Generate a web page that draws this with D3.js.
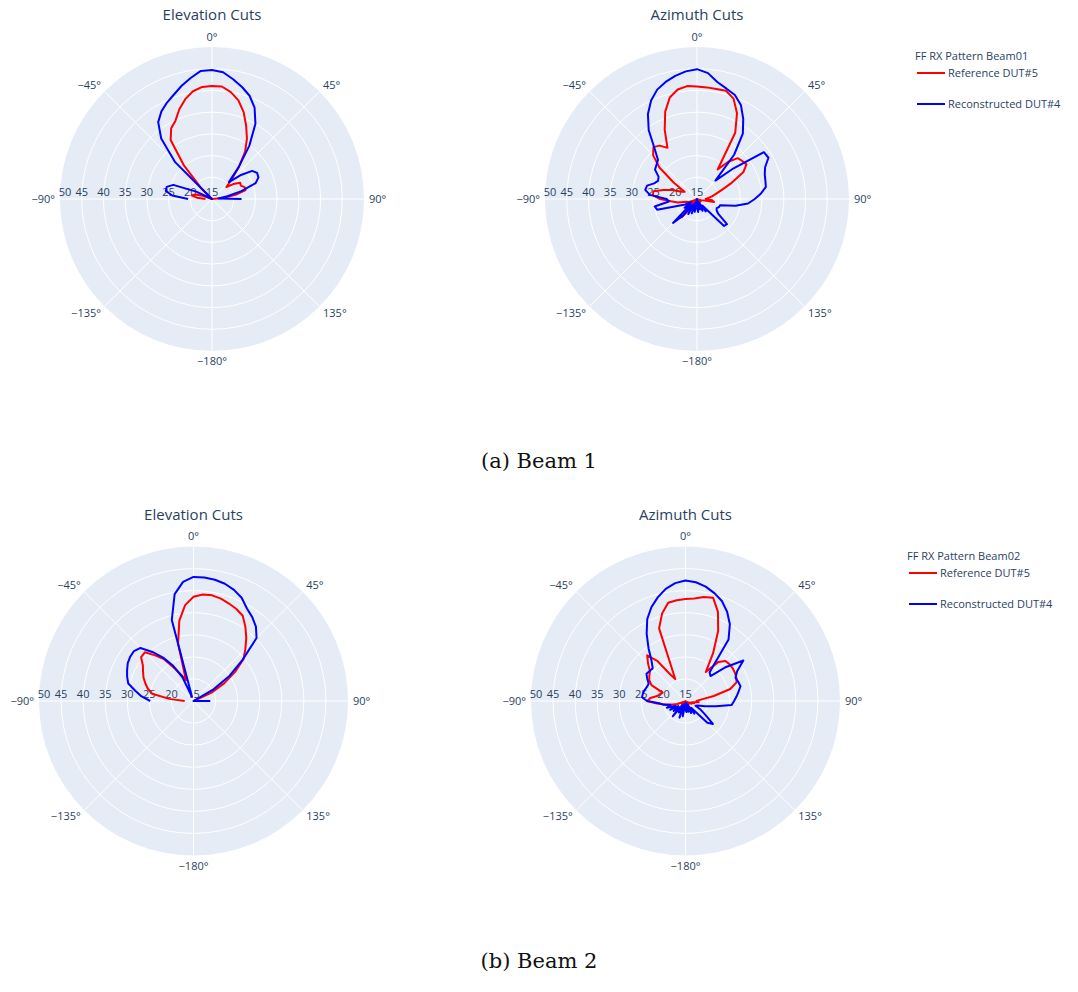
<!DOCTYPE html>
<html>
<head>
<meta charset="utf-8">
<script src="https://cdn.jsdelivr.net/npm/d3@7"></script>
<style>
    body { margin: 0; background: #fff; }
    svg text { font-family: "Open Sans", "Noto Sans", sans-serif; fill: #2a3f5f; }
    svg text.caption { font-family: "DejaVu Serif", serif; fill: #111; }
</style>
</head>
<body>
<div id="chart"></div>
<script>

// ---- data (dB) ----
const RADIAL_TICKS = [15, 20, 25, 30, 35, 40, 45, 50];
const ANGULAR_TICKS = [0, 45, 90, 135, 180, -135, -90, -45];
const ANGULAR_LABELS = ["0°", "45°", "90°", "135°", "−180°", "−135°", "−90°", "−45°"];

const ELEV_ANGLES = [-90, -85, -80, -75, -70, -65, -60, -55, -50, -45, -40, -35, -30, -25, -20, -15, -10, -5,
    0, 5, 10, 15, 20, 25, 30, 35, 40, 45, 50, 55, 60, 65, 70, 75, 80, 85, 90];

const AZ_ANGLES = [-180, -175, -170, -165, -160, -155, -150, -145, -140, -135, -130, -125, -120, -115, -110, -105,
    -100, -95, -90, -85, -80, -75, -70, -65, -60, -55, -50, -45, -40, -35, -30, -25, -20, -15, -10, -5,
    0, 5, 10, 15, 20, 25, 30, 35, 40, 45, 50, 55, 60, 65, 70, 75, 80, 85, 90, 95, 100, 105, 110, 115,
    120, 125, 130, 135, 140, 145, 150, 155, 160, 165, 170, 175, 180];

// Beam 1
const beam1ElevRef = [16.5, 18.5, 19.8, 19, 17, 15, 15, 15, 15, 18.4, 25, 31.6, 33.8, 34.9, 37, 38.8, 40.2, 40.9,
    41, 41, 40, 38.5, 36.3, 33.6, 31.1, 28.3, 24.6, 21.5, 19.3, 21, 22.5, 22.3, 23, 23, 20.5, 17.5, 15];
const beam1ElevRec = [20.5, 24.2, 25.8, 25.8, 24.5, 19, 15, 15, 15, 27, 33.2, 36.6, 38.3, 39.5, 40.6, 42, 43.3, 44.6,
    44.7, 44.3, 43, 41.7, 40.3, 38.2, 35, 30, 24.5, 20.5, 23.5, 26.3, 27, 26.8, 25.7, 22, 18.6, 16.5, 21.8];

const beam1AzRef = [16, 15, 16.5, 15, 17, 15.5, 16, 17.5, 20.5, 17, 15.5, 16, 15, 16, 17, 17.5,
    19.5, 21, 23.5, 25.2, 25.2, 23, 21, 19, 18.3, 21.5, 26.3, 29.3, 30.6, 30, 28.6, 32.6, 36.4, 39.2, 40.6, 41.1,
    40.9, 40.8, 40.7, 40.8, 39.6, 36.8, 32.6, 23.3, 26.2, 28.3, 28.6, 28.9, 27.3, 23.8, 21, 19.5, 18.5, 17.5, 17, 18.5, 19, 16, 15.5, 16,
    15, 15.5, 16, 15, 15.5, 15, 16, 15, 15.5, 15, 16, 15, 16];
const beam1AzRec = [17, 15, 18, 15.5, 18.5, 16, 19, 16.5, 20, 22.8, 17, 18.5, 16.5, 18, 19.5, 24.5,
    24.9, 21.5, 22, 25.9, 27.1, 26.9, 25.5, 24.9, 25.2, 26.8, 27.2, 27.7, 30.2, 34.4, 37.6, 40, 41.8, 42.9, 43.8, 44.5,
    44.9, 44.1, 42.3, 41.3, 40.5, 38.9, 36.3, 33.4, 28.3, 21, 26, 33.8, 34, 32.3, 31.6, 31.3, 31.1, 29.8, 28.3, 26.8, 24, 20.5, 20.4, 20,
    20.2, 21, 24, 23.8, 17, 18.5, 16, 18, 15.5, 17.5, 15.5, 18, 17];

// Beam 2
const beam2ElevRef = [17, 20.5, 24.5, 25.7, 26.6, 27.5, 28.2, 29, 30.5, 30.6, 28.5, 26.5, 23.5, 21.5, 20, 28.5, 33.5, 36.8,
    38.6, 39.2, 39.3, 39, 38.5, 38, 37.3, 35.5, 33.6, 31.6, 29.8, 26.5, 23, 19.5, 15, 15, 15, 15, 15];
const beam2ElevRec = [24.8, 26.8, 28.4, 30.3, 31, 31.6, 32.2, 32.5, 32.6, 32, 29.5, 27, 24.2, 21, 16, 34, 39.6, 42.1,
    43.1, 43.1, 42.9, 42.5, 41.8, 40.8, 39.2, 38.2, 37, 35.2, 29.5, 25, 20, 15, 15, 15, 15, 15, 18.8];

const beam2AzRef = [15.5, 15, 16, 15, 16.5, 15, 16, 15, 16.5, 15.5, 16, 15, 16, 15.5, 17, 18,
    19.5, 21.5, 23.7, 23, 21.5, 21, 20.5, 23.5, 24.5, 25, 25.5, 27, 28.5, 26, 22, 20.5, 32.5, 35.5, 37.6, 37.9,
    38.1, 38.3, 38.9, 39.2, 36.5, 32.5, 27.5, 23, 26.5, 27.8, 28, 28, 27.9, 27.7, 27.3, 25.5, 21.5, 18.5, 17.5, 18, 16.5, 17, 16, 16.5,
    15.5, 16, 15.5, 16, 15, 15.5, 15, 15.5, 15, 15.5, 15, 15.5, 15.5];
const beam2AzRec = [17, 15.5, 18.5, 16, 19, 16.5, 18, 16, 19.5, 17, 18.5, 17, 19, 17.5, 19.5, 18.5,
    20, 21, 23.7, 24.9, 24.8, 24.6, 24.3, 24.2, 25, 25.8, 25.6, 25.5, 27, 29.6, 32.6, 35.5, 37.6, 39.3, 40.8, 41.8,
    42.3, 42, 41.3, 40.3, 39.1, 37.3, 35.1, 32, 23.5, 23, 27, 31, 28.5, 27.5, 27.7, 27.9, 27.2, 26.6, 26, 25.5, 22, 19.5, 18, 17.5,
    19, 20.5, 23.1, 22, 17, 18.5, 16, 18, 15.5, 17.5, 15.5, 17.5, 17];

const SERIES_NAMES = ["Reference DUT#5", "Reconstructed DUT#4"];
const SERIES_COLORS = ["#ff0000", "#0000ff"];
const LEGEND_TITLES = ["FF RX Pattern Beam01", "FF RX Pattern Beam02"];
const CAPTIONS = ["(a) Beam 1", "(b) Beam 2"];


class PolarCut {

    constructor(svg, cfg) {
        this.svg = svg;
        this.cx = cfg.cx;
        this.cy = cfg.cy;
        this.radius = cfg.radius;
        this.title = cfg.title;
        this.angles = cfg.angles;
        this.series = cfg.series;

        this.initVis();
    }

    initVis() {
        let vis = this;

        vis.g = vis.svg.append("g")
            .attr("transform", `translate(${vis.cx}, ${vis.cy})`);

        vis.r = d3.scaleLinear()
            .domain([RADIAL_TICKS[0], RADIAL_TICKS[RADIAL_TICKS.length - 1]])
            .range([0, vis.radius])
            .clamp(true);

        // polar background
        vis.g.append("circle")
            .attr("r", vis.radius)
            .attr("fill", "#e5ecf6");

        // radial grid circles
        vis.g.selectAll(".grid-circle")
            .data(RADIAL_TICKS.slice(1, -1))
            .join("circle")
            .attr("class", "grid-circle")
            .attr("r", d => vis.r(d))
            .attr("fill", "none")
            .attr("stroke", "#fff")
            .attr("stroke-width", 1);

        // angular spokes
        vis.g.selectAll(".spoke")
            .data(ANGULAR_TICKS)
            .join("line")
            .attr("class", "spoke")
            .attr("x1", 0).attr("y1", 0)
            .attr("x2", d => vis.radius * Math.sin(d * Math.PI / 180))
            .attr("y2", d => -vis.radius * Math.cos(d * Math.PI / 180))
            .attr("stroke", "#fff")
            .attr("stroke-width", 1);

        // angular tick labels
        vis.g.selectAll(".ang-label")
            .data(ANGULAR_TICKS)
            .join("text")
            .attr("class", "ang-label")
            .attr("font-size", 11)
            .attr("x", d => (vis.radius + 5) * Math.sin(d * Math.PI / 180))
            .attr("y", d => -(vis.radius + 5) * Math.cos(d * Math.PI / 180))
            .attr("text-anchor", d => {
                let s = Math.sin(d * Math.PI / 180);
                return Math.abs(s) < 0.01 ? "middle" : (s > 0 ? "start" : "end");
            })
            .attr("dy", d => {
                let c = Math.cos(d * Math.PI / 180);
                return c > 0.9 ? "-0.1em" : (c < -0.9 ? "0.85em" : (c > 0.5 ? "0.05em" : (c < -0.5 ? "0.6em" : "0.35em")));
            })
            .text((d, i) => ANGULAR_LABELS[i]);

        // radial tick labels along the -90 direction
        vis.g.selectAll(".rad-label")
            .data(RADIAL_TICKS)
            .join("text")
            .attr("class", "rad-label")
            .attr("font-size", 11)
            .attr("text-anchor", "middle")
            .attr("x", d => -vis.r(d) + (d === 50 ? 5 : 0))
            .attr("y", -3)
            .text(d => d);

        // title
        vis.svg.append("text")
            .attr("x", vis.cx)
            .attr("y", vis.cy - vis.radius - 27)
            .attr("text-anchor", "middle")
            .attr("font-size", 15)
            .text(vis.title);

        vis.updateVis();
    }

    updateVis() {
        let vis = this;

        vis.line = d3.lineRadial()
            .angle(d => d.theta * Math.PI / 180)
            .radius(d => vis.r(d.val));

        vis.traces = vis.series.map((s, i) => ({
            color: SERIES_COLORS[i],
            points: vis.angles.map((a, j) => ({theta: a, val: s[j]}))
        }));

        vis.g.selectAll(".trace")
            .data(vis.traces)
            .join("path")
            .attr("class", "trace")
            .attr("d", d => vis.line(d.points))
            .attr("fill", "none")
            .attr("stroke", d => d.color)
            .attr("stroke-width", 2)
            .attr("stroke-linejoin", "round");
    }
}


function drawLegend(svg, x, y, title) {
    let g = svg.append("g").attr("transform", `translate(${x}, ${y})`);
    g.append("text")
        .attr("x", 0).attr("y", 0)
        .attr("font-size", 11)
        .attr("dy", "0.35em")
        .text(title);
    SERIES_NAMES.forEach((name, i) => {
        let yy = 17 + i * 31;
        g.append("line")
            .attr("x1", 2).attr("x2", 30)
            .attr("y1", yy).attr("y2", yy)
            .attr("stroke", SERIES_COLORS[i])
            .attr("stroke-width", 2);
        g.append("text")
            .attr("x", 33).attr("y", yy)
            .attr("dy", "0.35em")
            .attr("font-size", 11)
            .text(name);
    });
}


const svg = d3.select("#chart").append("svg")
    .attr("width", 1078)
    .attr("height", 992);

new PolarCut(svg, {cx: 212, cy: 199, radius: 152, title: "Elevation Cuts",
    angles: ELEV_ANGLES, series: [beam1ElevRef, beam1ElevRec]});
new PolarCut(svg, {cx: 697, cy: 199, radius: 152, title: "Azimuth Cuts",
    angles: AZ_ANGLES, series: [beam1AzRef, beam1AzRec]});
new PolarCut(svg, {cx: 193.5, cy: 701, radius: 154.5, title: "Elevation Cuts",
    angles: ELEV_ANGLES, series: [beam2ElevRef, beam2ElevRec]});
new PolarCut(svg, {cx: 685.5, cy: 701, radius: 154.5, title: "Azimuth Cuts",
    angles: AZ_ANGLES, series: [beam2AzRef, beam2AzRec]});

drawLegend(svg, 915, 56, LEGEND_TITLES[0]);
drawLegend(svg, 907, 556, LEGEND_TITLES[1]);

// sub-figure captions
svg.selectAll(".caption")
    .data(CAPTIONS)
    .join("text")
    .attr("class", "caption")
    .attr("x", 539)
    .attr("y", (d, i) => i === 0 ? 468 : 968)
    .attr("text-anchor", "middle")
    .attr("font-size", 21)
    .text(d => d);

</script>
</body>
</html>
